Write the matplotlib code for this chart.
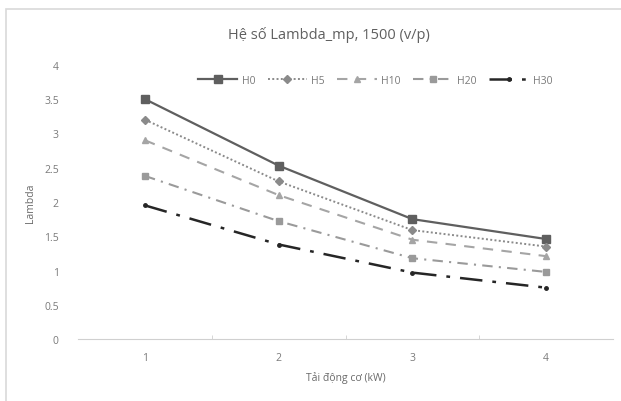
import matplotlib.pyplot as plt
from matplotlib.patches import Rectangle

plt.rcParams["font.family"] = ["Open Sans", "DejaVu Sans"]

loads = [1, 2, 3, 4]
h0 = [3.50, 2.53, 1.75, 1.46]
h5 = [3.20, 2.30, 1.59, 1.35]
h10 = [2.90, 2.10, 1.45, 1.21]
h20 = [2.38, 1.72, 1.18, 0.98]
h30 = [1.95, 1.38, 0.97, 0.75]
series_names = ["H0", "H5", "H10", "H20", "H30"]

styles = [
    dict(color="#5f5f5f", ls="-", lw=1.6, marker="s", ms=6),
    dict(color="#8a8a8a", ls=(0, (1, 1.2)), lw=1.4, marker="D", ms=4.5),
    dict(color="#a5a5a5", ls=(0, (5, 4)), lw=1.5, marker="^", ms=5),
    dict(color="#9a9a9a", ls=(0, (5, 3, 1, 3)), lw=1.5, marker="s", ms=5),
    dict(color="#262626", ls=(0, (9, 4, 1.5, 4)), lw=1.8, marker="o", ms=2.5),
]

fig = plt.figure(figsize=(6.21, 4.02), dpi=100)
ax = fig.add_axes([0.126, 0.154, 0.861, 0.682])

for vals, name, st in zip([h0, h5, h10, h20, h30], series_names, styles):
    ax.plot(loads, vals, label=name, color=st["color"], linestyle=st["ls"],
            linewidth=st["lw"], marker=st["marker"], markersize=st["ms"],
            markerfacecolor=st["color"], markeredgecolor=st["color"])

ax.set_xlim(0.5, 4.5)
ax.set_ylim(0, 4)
ax.set_xticks(loads)
ax.set_xticks([1.5, 2.5, 3.5], minor=True)
ax.set_yticks([0, 0.5, 1, 1.5, 2, 2.5, 3, 3.5, 4])
ax.set_yticklabels(["0", "0.5", "1", "1.5", "2", "2.5", "3", "3.5", "4"])
ax.tick_params(axis="both", which="major", length=0, labelsize=7.5, colors="#7a7a7a")
ax.tick_params(axis="x", which="major", pad=9)
ax.tick_params(axis="y", which="major", pad=14)
ax.tick_params(axis="x", which="minor", length=3, color="#d0d0d0", direction="in")

for side in ["top", "right", "left"]:
    ax.spines[side].set_visible(False)
ax.spines["bottom"].set_color("#d0d0d0")

ax.set_xlabel("Tải động cơ (kW)", fontsize=7.5, color="#6a6a6a", labelpad=6)
ax.set_ylabel("Lambda", fontsize=7.5, color="#6a6a6a", labelpad=6)
fig.text(0.53, 0.912, "Hệ số Lambda_mp, 1500 (v/p)", ha="center", va="center",
         fontsize=10.5, color="#606060")

ax.legend(loc="center", bbox_to_anchor=(0.555, 0.945), ncol=5, frameon=False,
          fontsize=7.5, handlelength=3.8, columnspacing=1.2, handletextpad=0.4,
          labelcolor="#7a7a7a")

fig.patches.append(Rectangle((0.009, -0.05), 1.1, 1.025, transform=fig.transFigure,
                             fill=False, edgecolor="#d9d9d9", lw=1.2))

fig.savefig("out.png", dpi=100)
